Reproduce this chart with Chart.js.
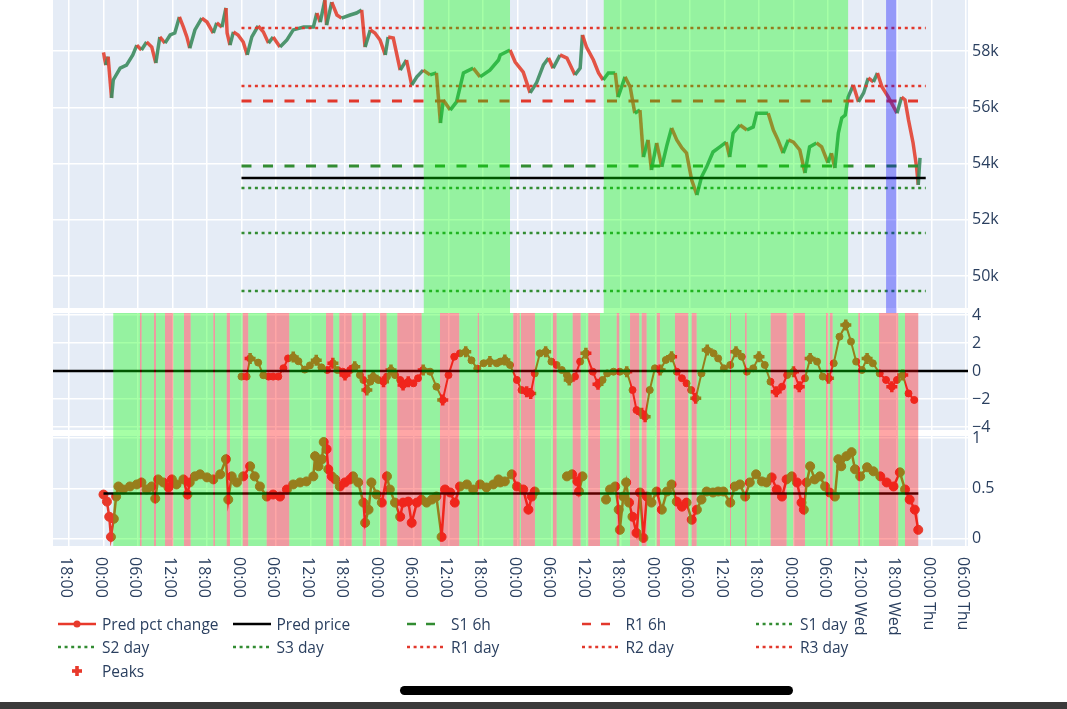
<!DOCTYPE html>
<html>
<head>
<meta charset="utf-8">
<title>Prediction chart</title>
<script src="https://cdn.jsdelivr.net/npm/chart.js@4.4.1/dist/chart.umd.min.js"></script>
<style>
  html, body { margin: 0; padding: 0; background: #fff; }
  body { position: relative; width: 1067px; height: 709px; overflow: hidden; font-family: "Open Sans", sans-serif; }
  canvas { position: absolute; left: 0; }
  #priceCanvas { top: -37px; }
  #pctCanvas { top: 303px; }
  #scoreCanvas { top: 426px; }
  #legend { position: absolute; left: 58px; top: 612px; display: grid; grid-template-columns: repeat(5, 174.5px); grid-auto-rows: 23.5px; }
  .item { display: flex; align-items: center; font-size: 15.5px; color: #2a3f5f; white-space: nowrap; }
  .item svg { flex: none; margin-right: 6px; }
  #homeBar { position: absolute; left: 400px; top: 686px; width: 393px; height: 9px; border-radius: 5px; background: #000; }
  #bottomStrip { position: absolute; left: 0; top: 702px; width: 1067px; height: 7px; background: #3a3a3a; }
</style>
</head>
<body>
<canvas id="priceCanvas" width="1067" height="350"></canvas>
<canvas id="pctCanvas" width="1067" height="133"></canvas>
<canvas id="scoreCanvas" width="1067" height="230"></canvas>
<div id="legend"></div>
<div id="homeBar"></div>
<div id="bottomStrip"></div>
<script>
// x values are hours counted from midnight of the first day
const tickLabels = ['18:00', '00:00', '06:00', '12:00', '18:00', '00:00', '06:00', '12:00', '18:00',
    '00:00', '06:00', '12:00', '18:00', '00:00', '06:00', '12:00', '18:00', '00:00', '06:00', '12:00',
    '18:00', '00:00', '06:00', '12:00 Wed', '18:00 Wed', '00:00 Thu', '06:00 Thu'];
const firstTickHour = 18;
const tickStepHours = 6;
const xMin = 15.22;
const xMax = 174.35;

// price (top panel)
const priceHours = [24.0, 24.4, 24.8, 25.4, 25.7, 26.9, 28.0, 29.1, 29.8, 30.6, 31.5, 32.4, 33.1, 33.8, 34.7,
    35.6, 36.4, 37.2, 37.9, 38.5, 39.0, 39.9, 41.1, 42.0, 43.1, 43.7, 44.6, 45.3, 45.5, 46.0, 46.6, 47.4,
    48.3, 49.0, 49.8, 50.9, 51.8, 52.7, 53.5, 54.7, 55.9, 57.0, 58.8, 60.5, 61.1, 61.7, 62.5, 62.8, 63.7,
    64.6, 65.4, 66.9, 68.0, 68.9, 69.5, 70.4, 71.2, 72.1, 73.0, 73.5, 74.4, 75.6, 76.7, 77.6, 78.5, 79.6,
    80.8, 81.9, 82.6, 83.1, 84.3, 85.4, 86.6, 88.3, 89.5, 91.2, 92.7, 93.0, 94.7, 95.6, 97.0, 98.2, 99.3,
    100.5, 101.4, 102.2, 103.4, 104.6, 106.0, 106.9, 107.3, 108.0, 109.2, 110.1, 110.9, 111.8, 113.0,
    113.5, 114.7, 115.6, 116.4, 117.3, 117.9, 118.7, 119.3, 120.2, 121.1, 122.0, 122.8, 123.7, 124.6,
    125.4, 126.3, 127.2, 128.0, 128.9, 130.0, 131.2, 132.3, 132.9, 133.5, 134.7, 135.9, 137.0, 137.6,
    138.8, 139.6, 140.5, 141.3, 142.2, 143.1, 144.0, 145.1, 146.0, 146.8, 148.0, 148.9, 150.0, 150.6,
    151.2, 151.8, 152.4, 153.0, 153.5, 154.4, 155.3, 156.2, 157.0, 157.9, 158.6, 159.4, 160.5, 162.0,
    162.8, 163.4, 164.0, 164.8, 165.4, 165.7, 166.0];
const priceValues = [57950, 57500, 57800, 56330, 56970, 57390, 57500, 57860, 58210, 58035, 58320, 58140,
    57570, 58500, 58280, 58570, 58640, 59210, 58850, 58500, 58100, 58750, 59170, 59030, 58640, 59000,
    58850, 59530, 58640, 58210, 58680, 58570, 58320, 57860, 58500, 58890, 58680, 58280, 58500, 58140,
    58390, 58750, 58850, 58850, 59350, 59030, 59810, 58920, 59740, 59280, 59170, 59280, 59350, 59460,
    58140, 58750, 58640, 58390, 57860, 58500, 58460, 57320, 57680, 56790, 57080, 57320, 57150, 57220,
    55440, 56260, 55900, 56190, 57220, 57390, 57080, 57320, 57680, 57860, 58035, 57610, 57250, 56510,
    56860, 57500, 57750, 57390, 57860, 57750, 57150, 57390, 58570, 58140, 57680, 57220, 56970, 57220,
    57220, 56360, 57080, 56720, 55790, 55900, 54230, 54840, 53770, 54730, 53880, 54660, 55260, 54840,
    54550, 54370, 53410, 52880, 53520, 53880, 54410, 54590, 54760, 54230, 55080, 55370, 55190, 55300,
    55790, 55790, 55790, 55190, 54840, 54370, 54840, 54760, 54480, 53660, 54590, 54730, 54590, 54020,
    54370, 53840, 55080, 55620, 55720, 56360, 56790, 56190, 56510, 57040, 56900, 57220, 56720, 56360,
    55790, 56360, 56260, 55550, 54730, 53880, 53240, 54200];

const predPrice = 53484;
const levelNames = ['S1 6h', 'R1 6h', 'S1 day', 'S2 day', 'S3 day', 'R1 day', 'R2 day', 'R3 day'];
const levelValues = [53911, 56222, 53129, 51529, 49467, 56756, 58818, 60380];
const levelStartHour = 48;
const levelEndHour = 167;

const greenZonesTop = [[79.7, 94.7], [111.0, 153.5]];
const blueZonesTop = [[160.1, 161.9]];

// predicted pct change (middle panel)
const pctHours = [48.0, 48.9, 49.5, 50.9, 51.8, 52.7, 53.5, 54.4, 55.3, 56.1, 57.0, 57.9, 59.0, 59.9, 61.0,
    61.9, 62.9, 63.9, 64.7, 65.6, 66.0, 66.9, 67.7, 68.6, 69.2, 69.8, 70.4, 70.9, 71.8, 72.7, 73.3, 74.0,
    74.7, 75.6, 76.1, 77.0, 77.9, 78.7, 79.6, 80.8, 81.9, 83.0, 84.0, 85.0, 86.0, 87.0, 88.0, 89.0, 90.1,
    91.2, 92.4, 93.0, 93.8, 94.7, 95.9, 96.7, 97.6, 98.3, 99.0, 99.9, 100.9, 101.9, 102.8, 103.7, 104.6,
    105.0, 106.0, 106.9, 107.9, 109.1, 110.0, 110.8, 111.6, 112.7, 113.8, 115.0, 116.0, 116.7, 117.6,
    118.2, 119.0, 119.9, 120.8, 121.8, 122.8, 123.7, 124.6, 125.4, 126.2, 127.0, 128.0, 129.0, 130.1,
    130.9, 131.9, 133.0, 134.0, 135.0, 135.9, 137.0, 138.0, 139.0, 140.0, 141.0, 142.0, 142.9, 144.0,
    145.0, 146.0, 146.9, 148.1, 149.1, 150.1, 151.0, 152.0, 153.1, 154.0, 154.9, 155.9, 156.8, 157.8,
    159.0, 160.1, 161.1, 162.0, 163.0, 164.0, 165.0];
const pctValues = [-0.4, -0.4, 0.9, 0.6, -0.3, -0.4, -0.4, -0.4, 0.2, 0.9, 1.0, 0.7, 0.1, 0.4, 0.76,
    0.26, 0.07, 0.55, 0.07, -0.05, -0.29, 0.07, 0.3, -0.29, -0.64, -1.36, -0.76, -0.4, -0.64, -0.76, -0.4,
    0.07, -0.29, -0.64, -1.0, -0.76, -0.88, -0.52, 0.07, -0.05, -1.12, -2.07, -0.29, 1.02, 1.26, 1.38,
    0.76, 0.17, 0.55, 0.67, 0.55, 0.67, 0.79, 0.43, -0.64, -1.36, -1.48, -1.6, -0.17, 1.26, 1.38, 0.67,
    0.43, 0.07, -0.29, -0.64, -0.4, 0.67, 1.26, -0.05, -0.95, -0.64, -0.17, -0.05, -0.05, -0.05, -1.36,
    -2.79, -3.02, -3.26, -1.36, 0.19, 0.07, 0.79, 1.02, -0.05, -0.52, -0.88, -1.36, -1.95, -0.17, 1.5,
    1.26, 0.9, 0.19, 0.43, 1.38, 1.02, -0.05, 0.19, 1.02, 0.43, -0.76, -1.48, -1.12, -0.29, -0.05, -1.12,
    -0.52, 0.9, 0.67, -0.4, -0.52, 0.55, 2.45, 3.29, 2.1, 0.67, 0.07, 0.9, 0.55, -0.17, -0.64, -1.12,
    -0.64, -0.29, -1.6, -2.07];

const peakHours = [49.5, 57.0, 61.0, 63.9, 66.0, 67.7, 69.8, 70.9, 72.7, 74.0, 76.1, 77.0, 79.6, 83.0,
    87.0, 91.2, 93.8, 97.6, 98.3, 100.9, 105.0, 107.9, 110.0, 115.0, 117.6, 118.2, 120.8, 122.8, 127.0,
    129.0, 134.0, 138.0, 141.0, 144.0, 145.0, 146.9, 150.1, 153.1, 156.8, 161.1, 163.0];
const peakValues = [0.9, 1.0, 0.76, 0.55, -0.29, 0.3, -1.36, -0.4, -0.76, 0.07, -1.0, -0.76, 0.07, -2.07,
    1.38, 0.67, 0.79, -1.48, -1.6, 1.38, -0.64, 1.26, -0.95, -0.05, -3.02, -3.26, 0.07, 1.02, -1.95,
    1.5, 1.38, 1.02, -1.48, -0.05, -1.12, 0.9, -0.52, 3.29, 0.9, -1.12, -0.29];

// score (bottom panel), null = no value
const scoreHours = [24.0, 24.6, 25.0, 25.3, 25.8, 26.2, 26.6, 27.4, 28.6, 29.8, 30.6, 31.5, 32.4, 33.0,
    33.5, 34.4, 35.3, 35.9, 36.7, 37.9, 38.6, 39.0, 39.9, 40.8, 42.0, 43.1, 44.3, 45.3, 45.7, 46.3, 47.2,
    48.3, 49.5, 50.3, 51.2, 52.4, 53.5, 54.7, 55.9, 57.0, 58.2, 59.3, 60.5, 60.8, 61.4, 62.0, 62.3, 62.8,
    63.1, 63.7, 64.3, 65.1, 66.0, 66.9, 67.4, 68.3, 69.2, 69.5, 70.1, 70.6, 71.5, 72.4, 73.3, 73.8, 74.7,
    75.6, 76.1, 77.0, 77.6, 78.5, 79.3, 80.2, 81.1, 81.9, 82.8, 83.4, 84.3, 85.1, 86.0, 87.2, 88.3, 89.5,
    90.6, 91.8, 92.7, 93.0, 93.8, 95.0, 95.9, 97.0, 97.9, 98.5, 99.0, 101.5, 104.6, 105.5, 106.4, 106.7,
    107.3, 109.0, 111.4, 112.1, 113.0, 113.6, 113.8, 114.4, 114.9, 115.4, 116.0, 116.7, 117.3, 117.9,
    118.5, 119.3, 120.2, 121.1, 122.0, 122.8, 123.7, 124.6, 125.4, 126.3, 127.2, 128.0, 128.9, 130.0,
    130.9, 131.8, 133.0, 133.8, 134.7, 135.6, 136.4, 137.5, 138.5, 139.3, 140.2, 141.1, 142.0, 142.8,
    143.7, 144.6, 145.4, 145.8, 146.3, 146.9, 147.7, 148.6, 149.5, 150.3, 151.2, 151.8, 152.3, 153.2,
    154.1, 154.7, 155.6, 156.8, 157.9, 159.1, 160.2, 161.4, 162.5, 163.4, 164.2, 165.1, 165.7];
const scoreValues = [0.44, 0.37, 0.22, 0.02, 0.2, 0.42, 0.52, 0.49, 0.52, 0.54, 0.56, 0.49, 0.52, 0.40,
    0.59, 0.56, 0.51, 0.59, 0.54, 0.59, 0.44, 0.56, 0.62, 0.64, 0.61, 0.59, 0.64, 0.79, 0.39, 0.62, 0.56,
    0.62, 0.72, 0.62, 0.52, 0.42, 0.44, 0.42, 0.49, 0.54, 0.56, 0.57, 0.62, 0.82, 0.72, 0.79, 0.96, 0.89,
    0.69, 0.62, 0.59, 0.52, 0.56, 0.59, 0.62, 0.56, 0.36, 0.16, 0.29, 0.56, 0.44, 0.36, 0.62, 0.49, 0.36,
    0.22, 0.36, 0.37, 0.16, 0.36, 0.39, 0.36, 0.39, 0.42, 0.02, 0.49, 0.46, 0.36, 0.52, 0.54, 0.49, 0.54,
    0.51, 0.54, 0.59, 0.56, 0.57, 0.64, 0.52, 0.49, 0.29, 0.42, 0.47, null, 0.62, 0.64, 0.57, 0.47,
    0.62, null, 0.39, 0.49, 0.52, 0.29, 0.09, 0.42, 0.56, 0.36, 0.22, 0.06, 0.46, 0.01,
    0.42, 0.36, 0.47, 0.29, 0.47, 0.54, 0.37, 0.32, 0.36, 0.19, 0.29, 0.39, 0.47, 0.46,
    0.47, 0.47, 0.36, 0.52, 0.54, 0.42, 0.56, 0.64, 0.57, 0.56, 0.61, 0.49, 0.42, 0.59,
    0.62, 0.56, 0.36, 0.29, 0.56, 0.72, 0.59, 0.62, 0.52, 0.46, 0.42, 0.79, 0.72, 0.82,
    0.86, 0.69, 0.62, 0.71, 0.67, 0.62, 0.56, 0.52, 0.66, 0.49, 0.39, 0.29, 0.09];
const scoreThreshold = 0.45;

// signal zones for the two lower panels: green everywhere in the span, red in these ranges
const signalStartHour = 25.7;
const signalEndHour = 165.7;
const redZones = [[30.35, 30.64], [32.78, 33.13], [34.70, 36.14], [38.0, 39.17], [43.10, 43.39],
    [45.43, 46.0], [48.21, 49.18], [52.38, 56.31], [62.70, 63.97], [65.01, 67.17], [69.08, 69.65],
    [72.09, 73.25], [75.10, 79.34], [82.52, 85.88], [89.08, 89.30], [95.27, 96.4], [96.6, 99.04],
    [102.17, 102.82], [105.6, 106.99], [108.31, 110.35], [113.25, 113.70], [115.57, 117.18],
    [117.6, 118.47], [120.21, 120.78], [123.39, 125.70], [126.3, 127.17], [132.96, 133.13],
    [135.57, 135.87], [140.03, 142.82], [143.97, 146.0], [149.65, 150.05], [150.35, 150.82],
    [155.27, 155.56], [158.87, 162.23], [163.39, 165.70]];

const RED = '#e8392b';
const GREEN_LVL = 'rgb(50,140,50)';
const RED_LVL = 'rgb(226,56,44)';
const GREEN_ZONE = 'rgba(0,255,0,0.35)';
const RED_ZONE = 'rgba(255,0,0,0.35)';
const BLUE_ZONE = 'rgba(0,0,255,0.35)';
const TEXT = '#2a3f5f';

function pts(xs, ys) {
    return xs.map((x, i) => ({ x: x, y: ys[i] }));
}

function signalZones() {
    const zones = [];
    let cur = signalStartHour;
    redZones.forEach(z => {
        if (z[0] > cur) zones.push({ from: cur, to: z[0], color: GREEN_ZONE });
        zones.push({ from: z[0], to: z[1], color: RED_ZONE });
        cur = z[1];
    });
    if (cur < signalEndHour) zones.push({ from: cur, to: signalEndHour, color: GREEN_ZONE });
    return zones;
}

// ticks on whole multiples of the step only
function stepTicks(scale, step) {
    const ticks = [];
    for (let v = Math.ceil(scale.min / step) * step; v <= scale.max + 1e-9; v += step) {
        ticks.push({ value: Math.round(v * 1e6) / 1e6 });
    }
    scale.ticks = ticks;
}

const plotBg = {
    id: 'plotBg',
    beforeDraw(chart) {
        const a = chart.chartArea;
        chart.ctx.save();
        chart.ctx.fillStyle = '#e5ecf6';
        chart.ctx.fillRect(a.left, a.top, a.right - a.left, a.bottom - a.top);
        chart.ctx.restore();
    }
};

// shapes drawn on top of the traces, like plotly vrects
const zones = {
    id: 'zones',
    afterDatasetsDraw(chart, args, opts) {
        const a = chart.chartArea;
        const xs = chart.scales.x;
        const bottom = opts.toCanvasBottom ? chart.height : a.bottom;
        const ctx = chart.ctx;
        ctx.save();
        (opts.list || []).forEach(z => {
            const x1 = xs.getPixelForValue(z.from);
            const x2 = xs.getPixelForValue(z.to);
            ctx.fillStyle = z.color;
            ctx.fillRect(x1, a.top, x2 - x1, bottom - a.top);
        });
        ctx.restore();
    }
};

// x labels rotated a quarter turn clockwise
const timeLabels = {
    id: 'timeLabels',
    afterDraw(chart) {
        const xs = chart.scales.x;
        const ctx = chart.ctx;
        ctx.save();
        ctx.font = '16px "Open Sans"';
        ctx.fillStyle = TEXT;
        ctx.textAlign = 'left';
        ctx.textBaseline = 'middle';
        xs.ticks.forEach(t => {
            const i = Math.round((t.value - firstTickHour) / tickStepHours);
            if (!tickLabels[i]) return;
            ctx.save();
            ctx.translate(xs.getPixelForValue(t.value) - 3, chart.chartArea.bottom + 11);
            ctx.rotate(Math.PI / 2);
            ctx.fillText(tickLabels[i], 0, 0);
            ctx.restore();
        });
        ctx.restore();
    }
};

function xAxis() {
    return {
        type: 'linear',
        min: xMin,
        max: xMax,
        afterFit: s => { s.height = 0; s.paddingLeft = 0; s.paddingRight = 0; },
        afterBuildTicks: s => stepTicks(s, tickStepHours),
        ticks: { display: false, autoSkip: false },
        grid: { color: '#ffffff', lineWidth: 1.5, drawTicks: false },
        border: { display: false }
    };
}

function yAxis(min, max, step, fmt) {
    return {
        position: 'right',
        min: min,
        max: max,
        afterFit: s => { s.width = 99; s.paddingTop = 0; s.paddingBottom = 0; },
        afterBuildTicks: s => stepTicks(s, step),
        ticks: {
            padding: 4, color: TEXT,
            font: { family: 'Open Sans', size: 16 }, callback: fmt
        },
        grid: { color: '#ffffff', lineWidth: 1.5, drawTicks: false },
        border: { display: false }
    };
}

function baseOptions(padding, yScale, zoneOpts) {
    return {
        responsive: false,
        animation: false,
        devicePixelRatio: 1,
        layout: { padding: padding, autoPadding: false },
        scales: { x: xAxis(), y: yScale },
        elements: { line: { tension: 0 } },
        plugins: { legend: { display: false }, tooltip: { enabled: false }, zones: zoneOpts }
    };
}

function levelDataset(name, value) {
    const isSupport = name.charAt(0) === 'S';
    const isDash = name.indexOf('6h') > 0;
    return {
        label: name,
        data: [{ x: levelStartHour, y: value }, { x: levelEndHour, y: value }],
        borderColor: isSupport ? GREEN_LVL : RED_LVL,
        borderWidth: isDash ? 2.8 : 2.5,
        borderDash: isDash ? [10, 11.5] : [3, 3.7],
        pointRadius: 0
    };
}

// top panel
const topDatasets = levelNames.map((n, i) => levelDataset(n, levelValues[i]));
topDatasets.push({
    label: 'Pred price',
    data: [{ x: levelStartHour, y: predPrice }, { x: levelEndHour, y: predPrice }],
    borderColor: '#000000',
    borderWidth: 2.5,
    pointRadius: 0
});
topDatasets.push({
    label: 'Price',
    data: pts(priceHours, priceValues),
    borderWidth: 3.5,
    pointRadius: 0,
    borderColor: 'rgba(60,140,95,0.9)',
    segment: {
        borderColor: c => c.p1.parsed.y < c.p0.parsed.y ? 'rgba(226,66,50,0.9)' : 'rgba(60,140,95,0.9)'
    }
});

const topZones = greenZonesTop.map(z => ({ from: z[0], to: z[1], color: GREEN_ZONE }))
    .concat(blueZonesTop.map(z => ({ from: z[0], to: z[1], color: BLUE_ZONE })));

new Chart(document.getElementById('priceCanvas'), {
    type: 'line',
    data: { datasets: topDatasets },
    options: baseOptions({ left: 53, right: 0, top: 2, bottom: 5 },
        yAxis(48862, 61058, 2000, v => (v / 1000) + 'k'),
        { list: topZones, toCanvasBottom: true }),
    plugins: [plotBg, zones]
});

// middle panel
new Chart(document.getElementById('pctCanvas'), {
    type: 'line',
    data: {
        datasets: [
            {
                label: 'zero',
                data: [{ x: xMin, y: 0 }, { x: xMax, y: 0 }],
                borderColor: '#000000',
                borderWidth: 2.5,
                pointRadius: 0
            },
            {
                label: 'Pred pct change',
                data: pts(pctHours, pctValues),
                borderColor: RED,
                backgroundColor: RED,
                borderWidth: 2,
                pointRadius: 3.5,
                pointBorderWidth: 1
            },
            {
                label: 'Peaks',
                data: pts(peakHours, peakValues),
                showLine: false,
                pointStyle: 'cross',
                pointRadius: 5.5,
                pointBorderWidth: 3.5,
                borderColor: RED,
                backgroundColor: RED
            }
        ]
    },
    options: baseOptions({ left: 53, right: 0, top: 10, bottom: 6 },
        yAxis(-4.214, 4.143, 2, v => v < 0 ? '\u2212' + Math.abs(v) : String(v)),
        { list: signalZones(), toCanvasBottom: true }),
    plugins: [plotBg, zones]
});

// bottom panel
new Chart(document.getElementById('scoreCanvas'), {
    type: 'line',
    data: {
        datasets: [
            {
                label: 'threshold',
                data: [{ x: scoreHours[0], y: scoreThreshold }, { x: scoreHours[scoreHours.length - 1], y: scoreThreshold }],
                borderColor: '#000000',
                borderWidth: 2.5,
                pointRadius: 0
            },
            {
                label: 'score',
                data: pts(scoreHours, scoreValues),
                borderColor: RED,
                backgroundColor: RED,
                borderWidth: 2.5,
                pointRadius: 4.5,
                pointBorderWidth: 1,
                spanGaps: false
            }
        ]
    },
    options: baseOptions({ left: 53, right: 0, top: 10, bottom: 110 },
        yAxis(-0.07, 1.02, 0.5, v => String(v)),
        { list: signalZones(), toCanvasBottom: false }),
    plugins: [plotBg, zones, timeLabels]
});

// legend
const legendEntries = [
    { label: 'Pred pct change', kind: 'marker', color: RED },
    { label: 'Pred price', kind: 'solid', color: '#000000' },
    { label: 'S1 6h', kind: 'dash', color: GREEN_LVL },
    { label: 'R1 6h', kind: 'dash', color: RED_LVL },
    { label: 'S1 day', kind: 'dot', color: GREEN_LVL },
    { label: 'S2 day', kind: 'dot', color: GREEN_LVL },
    { label: 'S3 day', kind: 'dot', color: GREEN_LVL },
    { label: 'R1 day', kind: 'dot', color: RED_LVL },
    { label: 'R2 day', kind: 'dot', color: RED_LVL },
    { label: 'R3 day', kind: 'dot', color: RED_LVL },
    { label: 'Peaks', kind: 'cross', color: RED }
];

function swatch(e) {
    let inner = '';
    if (e.kind === 'cross') {
        inner = `<rect x="14" y="5.2" width="10" height="3.6" fill="${e.color}"/>` +
            `<rect x="17.2" y="2" width="3.6" height="10" fill="${e.color}"/>`;
    } else {
        const dash = e.kind === 'dash' ? ' stroke-dasharray="9 10"' : e.kind === 'dot' ? ' stroke-dasharray="3 3.6"' : '';
        inner = `<line x1="0" y1="7" x2="38" y2="7" stroke="${e.color}" stroke-width="2.5"${dash}/>`;
        if (e.kind === 'marker') inner += `<circle cx="19" cy="7" r="3.5" fill="${e.color}"/>`;
    }
    return `<svg width="38" height="14" viewBox="0 0 38 14">${inner}</svg>`;
}

const legend = document.getElementById('legend');
legendEntries.forEach(e => {
    const div = document.createElement('div');
    div.className = 'item';
    div.innerHTML = swatch(e) + '<span>' + e.label + '</span>';
    legend.appendChild(div);
});
</script>
</body>
</html>
